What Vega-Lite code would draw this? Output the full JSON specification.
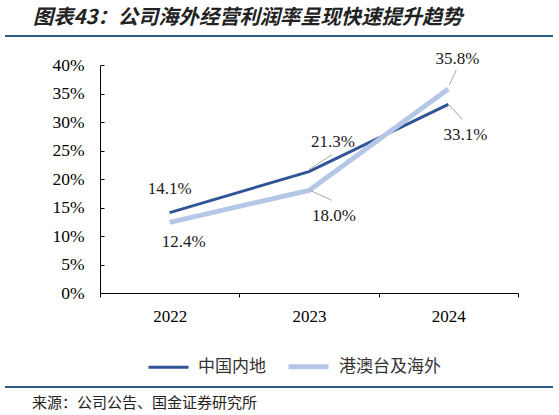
{
  "$schema": "https://vega.github.io/schema/vega-lite/v6.json",
  "padding": {"left": 5, "right": 5, "top": 7, "bottom": 4},
  "background": "white",
  "config": {"font": "Liberation Serif", "view": {"stroke": null}},
  "title": {
    "text": "图表43：公司海外经营利润率呈现快速提升趋势",
    "anchor": "start", "frame": "group", "dx": 28, "offset": 7,
    "font": "Noto Sans CJK SC", "fontSize": 20.3, "fontWeight": "bold", "fontStyle": "italic", "color": "#222222"
  },
  "data": {
    "values": [
      {"year": "2022", "series": "中国内地", "value": 0.141},
      {"year": "2023", "series": "中国内地", "value": 0.213},
      {"year": "2024", "series": "中国内地", "value": 0.331},
      {"year": "2022", "series": "港澳台及海外", "value": 0.124},
      {"year": "2023", "series": "港澳台及海外", "value": 0.180},
      {"year": "2024", "series": "港澳台及海外", "value": 0.358}
    ]
  },
  "spacing": 28,
  "bounds": "flush",
  "resolve": {"legend": {"color": "independent", "strokeWidth": "independent"}},
  "vconcat": [
    {
      "width": 548, "height": 2,
      "data": {"values": []},
      "mark": {"type": "point", "opacity": 0},
      "view": {"fill": "#2C5D87", "stroke": null}
    },
    {
      "width": 548, "height": 228,
      "encoding": {
        "x": {"field": "year", "type": "nominal",
          "scale": {"type": "band", "range": [95, 513], "paddingInner": 0, "paddingOuter": 0},
          "axis": {"title": null, "labelAngle": 0, "tickBand": "extent", "tickSize": 4, "labelPadding": 11,
            "domainColor": "#000000", "tickColor": "#000000", "labelColor": "#000000",
            "labelFont": "Liberation Serif", "labelFontSize": 17}},
        "y": {"field": "value", "type": "quantitative",
          "scale": {"domain": [0, 0.4], "nice": false},
          "axis": {"title": null, "offset": -95, "values": [0, 0.05, 0.1, 0.15, 0.2, 0.25, 0.3, 0.35, 0.4],
            "format": ".0%", "grid": false, "tickSize": -4, "labelPadding": 20,
            "domainColor": "#000000", "tickColor": "#000000", "labelColor": "#000000",
            "labelFont": "Liberation Serif", "labelFontSize": 17.5}}
      },
      "layer": [
        {
          "mark": {"type": "line"},
          "encoding": {
            "color": {"field": "series", "type": "nominal",
              "scale": {"domain": ["中国内地", "港澳台及海外"], "range": ["#2F5597", "#B4C7E7"]},
              "legend": {"orient": "none", "legendX": 142, "legendY": 279, "padding": 0, "title": null,
                "direction": "horizontal", "symbolType": "stroke",
                "symbolSize": 1600, "labelFont": "Noto Sans CJK SC", "labelFontSize": 17, "labelColor": "#333333",
                "columnPadding": 12, "labelOffset": 8}},
            "strokeWidth": {"field": "series", "type": "nominal",
              "scale": {"domain": ["中国内地", "港澳台及海外"], "range": [3, 5]},
              "legend": {"orient": "none", "legendX": 142, "legendY": 279, "padding": 0, "title": null,
                "direction": "horizontal", "symbolType": "stroke",
                "symbolSize": 1600, "labelFont": "Noto Sans CJK SC", "labelFontSize": 17, "labelColor": "#333333",
                "columnPadding": 12, "labelOffset": 8}}
          }
        },
        {
          "transform": [{"filter": "datum.series === '中国内地' && datum.year === '2023'"}],
          "mark": {"type": "rule", "color": "#A6A6A6", "strokeWidth": 1, "xOffset": 0, "yOffset": -2, "x2Offset": 23, "y2Offset": -17},
          "encoding": {"x2": {"field": "year"}, "y2": {"field": "value"}}
        },
        {
          "transform": [{"filter": "datum.series === '港澳台及海外' && datum.year === '2023'"}],
          "mark": {"type": "rule", "color": "#A6A6A6", "strokeWidth": 1, "xOffset": 1, "yOffset": 0, "x2Offset": 23, "y2Offset": 10},
          "encoding": {"x2": {"field": "year"}, "y2": {"field": "value"}}
        },
        {
          "transform": [{"filter": "datum.series === '港澳台及海外' && datum.year === '2024'"}],
          "mark": {"type": "rule", "color": "#A6A6A6", "strokeWidth": 1, "xOffset": 1, "yOffset": -4, "x2Offset": 8, "y2Offset": -19},
          "encoding": {"x2": {"field": "year"}, "y2": {"field": "value"}}
        },
        {
          "transform": [{"filter": "datum.series === '中国内地' && datum.year === '2024'"}],
          "mark": {"type": "rule", "color": "#A6A6A6", "strokeWidth": 1, "xOffset": 1, "yOffset": 1, "x2Offset": 14, "y2Offset": 15},
          "encoding": {"x2": {"field": "year"}, "y2": {"field": "value"}}
        },
        {
          "transform": [{"filter": "datum.series === '中国内地' && datum.year === '2022'"}],
          "mark": {"type": "text", "dx": 0, "dy": -24, "fontSize": 17, "color": "#1A1A1A"},
          "encoding": {"text": {"field": "value", "type": "quantitative", "format": ".1%"}}
        },
        {
          "transform": [{"filter": "datum.series === '港澳台及海外' && datum.year === '2022'"}],
          "mark": {"type": "text", "dx": 14, "dy": 20, "fontSize": 17, "color": "#1A1A1A"},
          "encoding": {"text": {"field": "value", "type": "quantitative", "format": ".1%"}}
        },
        {
          "transform": [{"filter": "datum.series === '中国内地' && datum.year === '2023'"}],
          "mark": {"type": "text", "dx": 24, "dy": -30, "fontSize": 17, "color": "#1A1A1A"},
          "encoding": {"text": {"field": "value", "type": "quantitative", "format": ".1%"}}
        },
        {
          "transform": [{"filter": "datum.series === '港澳台及海外' && datum.year === '2023'"}],
          "mark": {"type": "text", "dx": 25, "dy": 26, "fontSize": 17, "color": "#1A1A1A"},
          "encoding": {"text": {"field": "value", "type": "quantitative", "format": ".1%"}}
        },
        {
          "transform": [{"filter": "datum.series === '港澳台及海外' && datum.year === '2024'"}],
          "mark": {"type": "text", "dx": 9, "dy": -30, "fontSize": 17, "color": "#1A1A1A"},
          "encoding": {"text": {"field": "value", "type": "quantitative", "format": ".1%"}}
        },
        {
          "transform": [{"filter": "datum.series === '中国内地' && datum.year === '2024'"}],
          "mark": {"type": "text", "dx": 17, "dy": 31, "fontSize": 17, "color": "#1A1A1A"},
          "encoding": {"text": {"field": "value", "type": "quantitative", "format": ".1%"}}
        }
      ]
    },
    {
      "width": 548, "height": 37,
      "data": {"values": []},
      "mark": {"type": "point", "opacity": 0}
    },
    {
      "width": 548, "height": 2,
      "data": {"values": []},
      "mark": {"type": "point", "opacity": 0},
      "view": {"fill": "#2C5D87", "stroke": null},
      "title": {
        "text": "来源：公司公告、国金证券研究所",
        "orient": "bottom", "anchor": "start", "frame": "group", "dx": 27, "offset": 8,
        "font": "Noto Sans CJK SC", "fontSize": 15, "fontWeight": "normal", "color": "#222222"
      }
    }
  ]
}
